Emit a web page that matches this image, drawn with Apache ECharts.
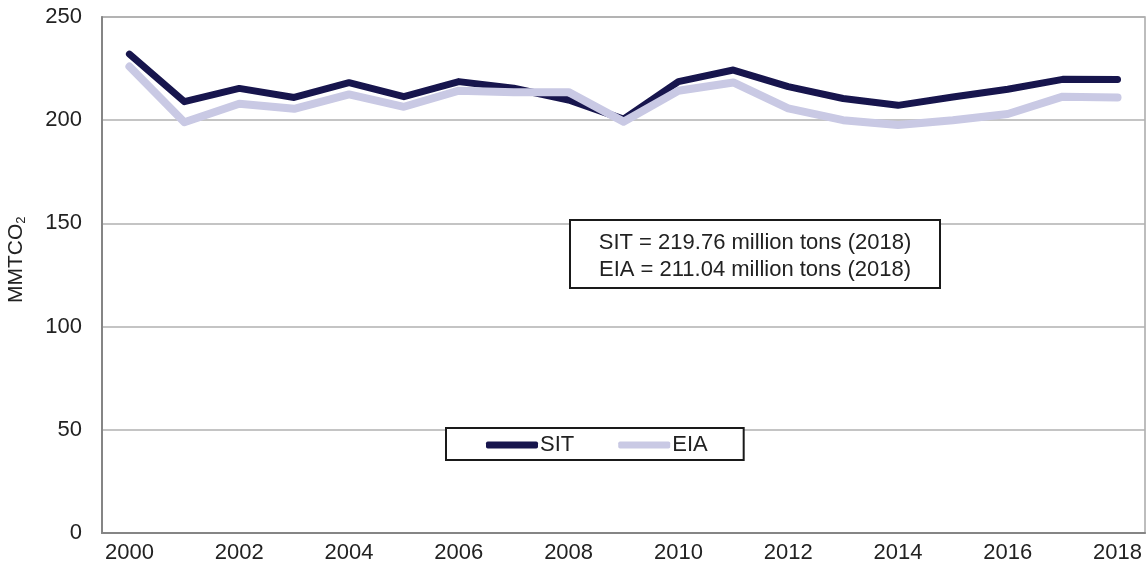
<!DOCTYPE html>
<html>
<head>
<meta charset="utf-8">
<script src="https://cdn.jsdelivr.net/npm/echarts@6/dist/echarts.min.js"></script>
<style>
html,body{margin:0;padding:0;background:#fff;}
#chart{width:1147px;height:575px;}
</style>
</head>
<body>
<div id="chart"></div>
<script>
const years = ['2000','2001','2002','2003','2004','2005','2006','2007','2008','2009','2010','2011','2012','2013','2014','2015','2016','2017','2018'];
const sit = [232, 209, 215.4, 211, 218.2, 211.4, 218.7, 215.5, 209.8, 200.5, 218.7, 224.3, 216.3, 210.5, 207.2, 211.2, 215, 219.8, 219.76];
const eia = [226, 199, 208, 205.5, 212.5, 206.5, 214.3, 213.6, 213.6, 199.3, 214.3, 218.3, 205.7, 200, 197.7, 200, 203, 211.4, 211.04];
const yTicks = [0, 50, 100, 150, 200, 250];
const noteLines = ['SIT = 219.76 million tons (2018)', 'EIA = 211.04 million tons (2018)'];

const FONT = 'Liberation Sans, Arial, sans-serif';
const chart = echarts.init(document.getElementById('chart'), null, {renderer:'canvas'});
chart.setOption({
  animation: false,
  backgroundColor: '#fff',
  grid: {left:102, right:2, top:17, bottom:42, show:true, borderColor:'#a8a8a8', borderWidth:1.5},
  legend: {
    left: 446, top: 428,
    data: ['SIT','EIA'],
    icon: 'roundRect',
    itemWidth: 52, itemHeight: 7, itemGap: 44,
    padding: [6, 36, 4, 40],
    borderColor: '#1a1a1a', borderWidth: 2,
    backgroundColor: '#fff',
    textStyle: {fontFamily: FONT, fontSize: 22, color: '#222', padding:[0,0,0,-3]}
  },
  xAxis: {
    type: 'category', data: years, boundaryGap: true,
    axisLine: {show:true, lineStyle:{color:'#858585', width:2}},
    axisTick: {show:false},
    axisLabel: {interval: 1, fontFamily: FONT, fontSize: 22, color:'#222', margin: 9}
  },
  yAxis: {
    type: 'value', min: 0, max: 250, interval: 50,
    axisLine: {show:true, lineStyle:{color:'#858585', width:2}},
    axisTick: {show:false},
    splitLine: {show:true, lineStyle:{color:'#b0b0b0', width:1.5}},
    axisLabel: {fontFamily: FONT, fontSize: 22, color:'#222', margin: 20,
      formatter: v => yTicks.includes(v) ? String(v) : ''}
  },
  graphic: [
    {type:'rect', x:570, y:220, shape:{x:0, y:0, width:370, height:68},
     style:{fill:'#fff', stroke:'#1a1a1a', lineWidth:2}, z:10},
    {type:'text', x:755, y:229, z:11,
     style:{text: noteLines.join('\n'), font:'22px '+FONT, fill:'#222', textAlign:'center', textVerticalAlign:'top', lineHeight:27}},
    {type:'text', z:11, rotation: Math.PI/2, x:4, y:303,
     style:{text:'{a|MMTCO}{b|2}', font:'21px '+FONT, fill:'#222',
       rich:{a:{fontSize:21, fontFamily:FONT, color:'#222'}, b:{fontSize:13, fontFamily:FONT, color:'#222', padding:[11,0,0,0]}}}}
  ],
  series: [
    {name:'SIT', type:'line', data: sit, symbol:'none', smooth:false,
     lineStyle:{color:'#17154d', width:7, cap:'round', join:'round'}, itemStyle:{color:'#17154d'}},
    {name:'EIA', type:'line', data: eia, symbol:'none', smooth:false,
     lineStyle:{color:'#c9c9e4', width:8, cap:'round', join:'round'}, itemStyle:{color:'#c9c9e4'}}
  ]
});
</script>
</body>
</html>
